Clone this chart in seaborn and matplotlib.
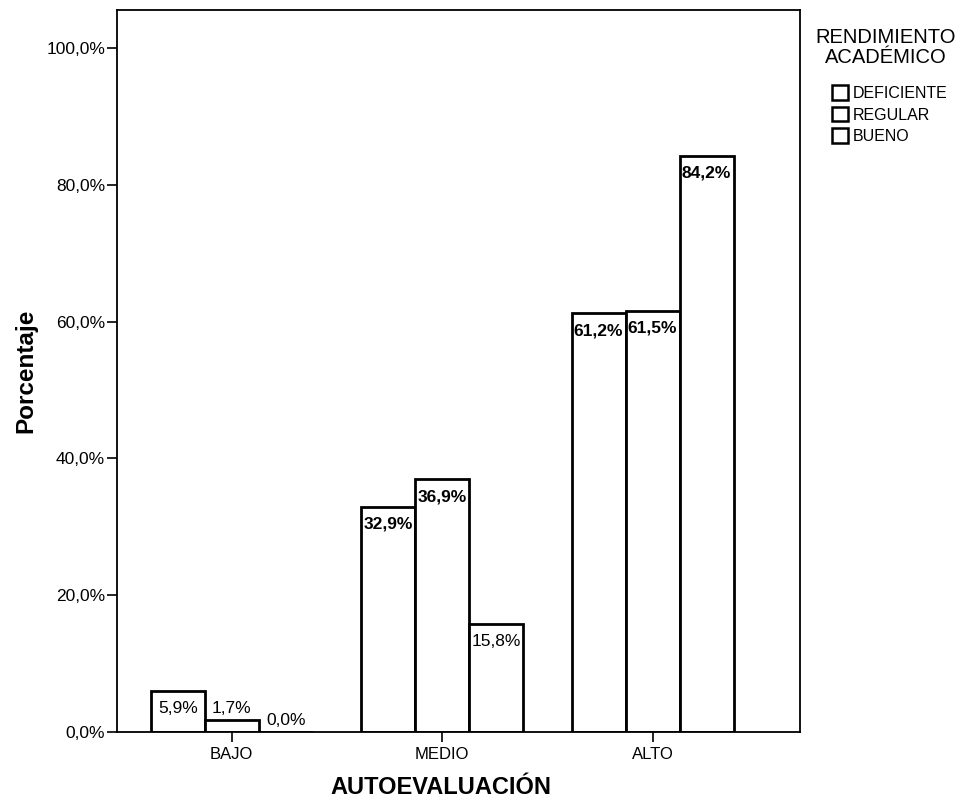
import matplotlib
matplotlib.use("Agg")
import matplotlib.pyplot as plt
import seaborn as sns
import pandas as pd
from matplotlib.patches import Patch

# Data
categorias = ["BAJO", "MEDIO", "ALTO"]
rendimiento = ["DEFICIENTE", "REGULAR", "BUENO"]
deficiente = [5.9, 32.9, 61.2]
regular = [1.7, 36.9, 61.5]
bueno = [0.0, 15.8, 84.2]
yticks = [0, 20, 40, 60, 80, 100]

df = pd.DataFrame({
    "AUTOEVALUACIÓN": categorias * 3,
    "RENDIMIENTO": [r for r in rendimiento for _ in categorias],
    "Porcentaje": deficiente + regular + bueno,
})

sns.set_theme(style="white", rc={"text.color": "black", "axes.labelcolor": "black",
                                 "xtick.color": "black", "ytick.color": "black"})
plt.rcParams["font.family"] = ["Liberation Sans", "DejaVu Sans"]

fig = plt.figure(figsize=(9.66, 8.06), dpi=100)
ax = fig.add_axes([0.121, 0.092, 0.707, 0.896])

sns.barplot(
    data=df, x="AUTOEVALUACIÓN", y="Porcentaje", hue="RENDIMIENTO",
    order=categorias, hue_order=rendimiento,
    palette=["white"] * 3, edgecolor="black",
    linewidth=2.0, width=0.77, ax=ax, legend=False,
)

ax.set_ylim(0, 105.6)
ax.set_xlim(-0.546, 2.70)
ax.set_yticks(yticks)
ax.set_yticklabels([f"{v:.1f}%".replace(".", ",") for v in yticks])
ax.tick_params(axis="y", direction="out", length=7.5, width=1.2, pad=1,
               left=True, labelsize=12.5)
ax.tick_params(axis="x", direction="out", length=7.5, width=1.2, pad=3.5,
               bottom=True, labelsize=12)
for s in ax.spines.values():
    s.set_color("black")
    s.set_linewidth(1.3)

ax.set_xlabel("AUTOEVALUACIÓN", fontsize=17, fontweight="bold", labelpad=10)
ax.xaxis.label.set_x(0.474)
ax.set_ylabel("Porcentaje", fontsize=17.5, fontweight="bold", labelpad=6)

# Value labels on each bar: inside the top when there is room, above otherwise
for cont in ax.containers:
    for p in cont.patches:
        h = p.get_height()
        txt = f"{h:.1f}%".replace(".", ",")
        xc = p.get_x() + p.get_width() / 2
        if h > 4:
            ax.annotate(txt, (xc, h), xytext=(0, -7), textcoords="offset points",
                        ha="center", va="top", fontsize=12.5,
                        fontweight="normal" if h < 20 else "bold")
        else:
            ax.annotate(txt, (xc, h), xytext=(0, 3), textcoords="offset points",
                        ha="center", va="bottom", fontsize=12.5)

# Legend title drawn as centred text, entries below it
fig.text(0.917, 0.941, "RENDIMIENTO\nACADÉMICO", ha="center", va="center",
         fontsize=14.5, linespacing=1.08)
handles = [Patch(facecolor="white", edgecolor="black", linewidth=1.8) for _ in rendimiento]
fig.legend(handles, rendimiento, loc="upper left", bbox_to_anchor=(0.861, 0.894),
           frameon=False, fontsize=11.5, handlelength=1.0, handleheight=1.0,
           handletextpad=0.3, labelspacing=0.37, borderpad=0, borderaxespad=0)

fig.savefig("out.png", dpi=100)
